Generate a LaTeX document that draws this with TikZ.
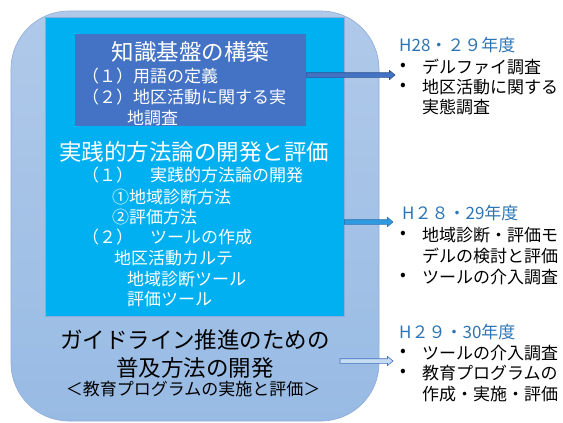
\documentclass[tikz,border=0pt]{standalone}
\usepackage{fontspec}
\setmainfont{Noto Sans CJK JP}
\usetikzlibrary{calc}
\definecolor{outerTop}{HTML}{B0C9E9}
\definecolor{outerBot}{HTML}{98BBE4}
\definecolor{outerLine}{HTML}{8FAADC}
\definecolor{cyanbox}{HTML}{00B0F0}
\definecolor{darkbox}{HTML}{4472C4}
\definecolor{headblue}{HTML}{2E75B6}
\definecolor{arrA}{HTML}{4472C4}
\definecolor{arrAline}{HTML}{2F528F}
\definecolor{arrB}{HTML}{2E9BE0}
\definecolor{arrBline}{HTML}{2E75B6}
\definecolor{arrC}{HTML}{C5DCF2}
\definecolor{arrCline}{HTML}{4472C4}
\newcommand{\blockarrow}[4]{%
  \path let \p1=(#1), \p2=(#2) in
    [fill=#3, draw=#4, line width=0.6pt, line join=miter]
    (\x1,\y1+2.3pt) -- (\x2-5.5pt,\y1+2.3pt) -- (\x2-5.5pt,\y1+4.6pt) -- (\x2,\y1)
    -- (\x2-5.5pt,\y1-4.6pt) -- (\x2-5.5pt,\y1-2.3pt) -- (\x1,\y1-2.3pt) -- cycle;}
\begin{document}
\begin{tikzpicture}[x=1pt,y=-1pt,
  wtxt/.style={inner sep=0pt, text=white, font=\fontsize{17}{20}\selectfont, anchor=west},
  wtitle/.style={inner sep=0pt, text=white, font=\fontsize{22.5}{26}\selectfont},
  ktitle/.style={inner sep=0pt, text=black, font=\fontsize{22.5}{26}\selectfont},
  ktxt/.style={inner sep=0pt, text=black, font=\fontsize{17}{20}\selectfont, anchor=west},
  htxt/.style={inner sep=0pt, text=headblue, font=\fontsize{17}{20}\selectfont, anchor=west},
  bul/.style={inner sep=0pt, text=black, font=\fontsize{17}{20}\selectfont, anchor=west}]
\useasboundingbox (0,0) rectangle (563,423);
% outer rounded box
\draw[rounded corners=58pt, top color=outerTop, bottom color=outerBot, draw=outerLine, line width=0.6pt]
  (11,11) rectangle (379,421);
\node[draw=outerLine, fill=cyanbox, line width=0.5pt, minimum width=299pt, minimum height=299pt, inner sep=0pt, anchor=north west] (cyan) at (45,17) {};
\node[fill=darkbox, minimum width=231pt, minimum height=92pt, inner sep=0pt, anchor=north west] (dark) at (75,34) {};
% section 1 text
\node[wtitle] (t1) at (190.5,52) {知識基盤の構築};
\node[wtxt] (t1a) at (82,76) {（１）用語の定義};
\node[wtxt] (t1b) at (82,97) {（２）地区活動に関する実};
\node[wtxt] (t1c) at (127,118) {地調査};
% section 2 text
\node[wtitle] (t2) at (194.5,152) {実践的方法論の開発と評価};
\node[wtxt] (t2a) at (82,175) {（１）　実践的方法論の開発};
\node[wtxt] (t2b) at (112,197) {①地域診断方法};
\node[wtxt] (t2c) at (112,217) {②評価方法};
\node[wtxt] (t2d) at (82,237) {（２）　ツールの作成};
\node[wtxt] (t2e) at (114,258) {地区活動カルテ};
\node[wtxt] (t2f) at (127,279) {地域診断ツール};
\node[wtxt] (t2g) at (127,299) {評価ツール};
% section 3 text
\node[ktitle] (t3) at (195,340) {ガイドライン推進のための};
\node[ktitle] (t3b) at (195,368) {普及方法の開発};
\node[inner sep=0pt, font=\fontsize{17}{20}\selectfont] (t3c) at (193,389) {＜教育プログラムの実施と評価＞};
% right column 1
\node[htxt] (h1) at (399,45) {H28・２９年度};
\node[bul] (b1a) at (400,67) {•};
\node[ktxt] (r1a) at (422,67) {デルファイ調査};
\node[bul] (b1b) at (400,87) {•};
\node[ktxt] (r1b) at (422,87) {地区活動に関する};
\node[ktxt] (r1c) at (422,107) {実態調査};
% right column 2
\node[htxt] (h2) at (402,213) {H２８・29年度};
\node[bul] (b2a) at (400,235) {•};
\node[ktxt] (r2a) at (422,235) {地域診断・評価モ};
\node[ktxt] (r2b) at (422,256) {デルの検討と評価};
\node[bul] (b2b) at (400,277) {•};
\node[ktxt] (r2c) at (422,277) {ツールの介入調査};
% right column 3
\node[htxt] (h3) at (399,332) {H２９・30年度};
\node[bul] (b3a) at (400,353) {•};
\node[ktxt] (r3a) at (422,353) {ツールの介入調査};
\node[bul] (b3b) at (400,373) {•};
\node[ktxt] (r3b) at (422,373) {教育プログラムの};
\node[ktxt] (r3c) at (422,394) {作成・実施・評価};
% arrows
\coordinate (e1) at (395,75);
\coordinate (s1) at (dark.east |- e1);
\coordinate (e2) at (393,222);
\coordinate (s2) at (cyan.east |- e2);
\coordinate (s3) at (340,361);
\coordinate (e3) at (393,361);
\blockarrow{s1}{e1}{arrA}{arrAline}
\blockarrow{s2}{e2}{arrB}{arrBline}
\blockarrow{s3}{e3}{arrC}{arrCline}
\end{tikzpicture}
\end{document}
